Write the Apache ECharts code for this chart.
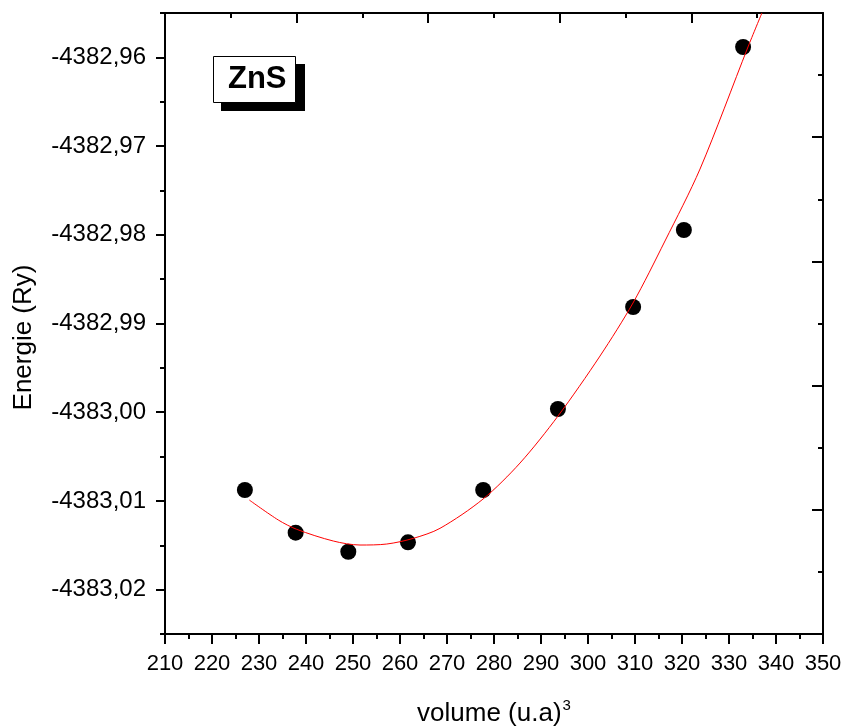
<!DOCTYPE html>
<html>
<head>
<meta charset="utf-8">
<script src="https://cdn.jsdelivr.net/npm/echarts@6/dist/echarts.min.js"></script>
<style>html,body{margin:0;padding:0;background:#fff;}#c{width:845px;height:727px;}</style>
</head>
<body>
<div id="c"></div>
<script>
// Data points (volume in (u.a)^3, energy in Ry)
const xVolume = [227.0, 237.8, 249.0, 261.7, 277.7, 293.6, 309.6, 320.4, 333.0];
const yEnergy = [-4383.00877, -4383.01358, -4383.01573, -4383.01467, -4383.00877, -4382.99964, -4382.98814, -4382.97946, -4382.95883];

// Fitted curve
const fitVolume = [227.94, 234.11, 238.02, 245.81, 251.49, 257.17, 262.83, 268.51, 277.66, 285.53, 293.62, 302.55, 309.57, 316.38, 323.83, 334.04, 337.0];
const fitEnergy = [-4383.00990, -4383.01215, -4383.01320, -4383.01452, -4383.01497, -4383.01486, -4383.01422, -4383.01309, -4383.00979, -4383.00573, -4383.00043, -4382.99367, -4382.98769, -4382.98070, -4382.97259, -4382.95883, -4382.95500];

// Axis ticks
const xMin = 210, xMax = 350, xStep = 10;
const yMin = -4383.025, yMax = -4382.955;
const yMajorTicks = [-4383.02, -4383.01, -4383.00, -4382.99, -4382.98, -4382.97, -4382.96];
const yMinorTicks = [-4383.025, -4383.015, -4383.005, -4382.995, -4382.985, -4382.975, -4382.965, -4382.955];

const yTitle = 'Energie (Ry)';
const xTitle = 'volume (u.a)';
const xTitleSup = '3';
const label = 'ZnS';

const FONT = '"Liberation Sans", Arial, sans-serif';
const chart = echarts.init(document.getElementById('c'), null, {renderer: 'canvas'});
const blackLine = {show: true, onZero: false, lineStyle: {color: '#000', width: 2}};

const scatterData = xVolume.map((x, i) => [x, yEnergy[i]]);
const fitData = fitVolume.map((x, i) => [x, fitEnergy[i]]);

chart.setOption({
  animation: false,
  backgroundColor: '#fff',
  grid: {left: 165, right: 22, top: 13, bottom: 93, containLabel: false, outerBoundsMode: 'none'},
  xAxis: [
    {
      type: 'value', position: 'bottom', min: xMin, max: xMax, interval: xStep,
      axisLine: blackLine,
      axisTick: {show: true, inside: false, length: 10, lineStyle: {color: '#000', width: 2}},
      minorTick: {show: true, splitNumber: 2, length: 5, lineStyle: {color: '#000', width: 2}},
      splitLine: {show: false}, minorSplitLine: {show: false},
      axisLabel: {show: true, color: '#000', fontSize: 22, fontFamily: FONT, margin: 19},
      name: '{a|' + xTitle + '}{s|' + xTitleSup + '}',
      nameLocation: 'middle', nameGap: 64,
      nameTextStyle: {
        rich: {
          a: {fontSize: 26, fontFamily: FONT, color: '#000'},
          s: {fontSize: 15, fontFamily: FONT, color: '#000', verticalAlign: 'top', padding: [0, 0, 16, 1]}
        }
      }
    },
    {
      type: 'value', position: 'top', min: 0, max: 10, interval: 2,
      axisLine: blackLine,
      axisTick: {show: true, inside: true, length: 10, lineStyle: {color: '#000', width: 2}},
      minorTick: {show: true, splitNumber: 2, length: 5, lineStyle: {color: '#000', width: 2}},
      splitLine: {show: false}, minorSplitLine: {show: false},
      axisLabel: {show: false}
    }
  ],
  yAxis: [
    {
      type: 'value', position: 'left', min: yMin, max: yMax,
      axisLine: blackLine,
      axisTick: {show: true, inside: false, length: 9, customValues: yMajorTicks, lineStyle: {color: '#000', width: 2}},
      splitLine: {show: false},
      axisLabel: {
        show: true, customValues: yMajorTicks, color: '#000', fontSize: 24, fontFamily: FONT, margin: 19,
        formatter: v => v.toFixed(2).replace('.', ',')
      },
      name: yTitle, nameLocation: 'middle', nameRotate: 90, nameGap: 128,
      nameTextStyle: {fontSize: 26, fontFamily: FONT, color: '#000', padding: [0, 28, 0, 0]}
    },
    {
      type: 'value', position: 'left', min: yMin, max: yMax,
      axisLine: {show: false},
      axisTick: {show: true, inside: false, length: 5, customValues: yMinorTicks, lineStyle: {color: '#000', width: 2}},
      splitLine: {show: false},
      axisLabel: {show: false}
    },
    {
      type: 'value', position: 'right', min: 0, max: 10, interval: 2,
      axisLine: blackLine,
      axisTick: {show: true, inside: true, length: 11, lineStyle: {color: '#000', width: 2}},
      minorTick: {show: true, splitNumber: 2, length: 5, lineStyle: {color: '#000', width: 2}},
      splitLine: {show: false}, minorSplitLine: {show: false},
      axisLabel: {show: false}
    }
  ],
  series: [
    {
      type: 'scatter', xAxisIndex: 0, yAxisIndex: 0, data: scatterData,
      symbol: 'circle', symbolSize: 16, itemStyle: {color: '#000', opacity: 1}, z: 2
    },
    {
      type: 'line', xAxisIndex: 0, yAxisIndex: 0, data: fitData,
      smooth: 0.3, showSymbol: false, symbol: 'none',
      lineStyle: {color: '#ff0000', width: 1}, z: 3, clip: true
    }
  ],
  graphic: [
    {type: 'rect', left: 221, top: 64, shape: {width: 84, height: 47}, style: {fill: '#000'}, z: 10},
    {type: 'rect', left: 213, top: 56, shape: {width: 82, height: 46}, style: {fill: '#fff', stroke: '#000', lineWidth: 1}, z: 11},
    {type: 'text', left: 228, top: 64, style: {text: label, fill: '#000', font: 'bold 31px ' + FONT}, z: 12}
  ]
});
</script>
</body>
</html>
